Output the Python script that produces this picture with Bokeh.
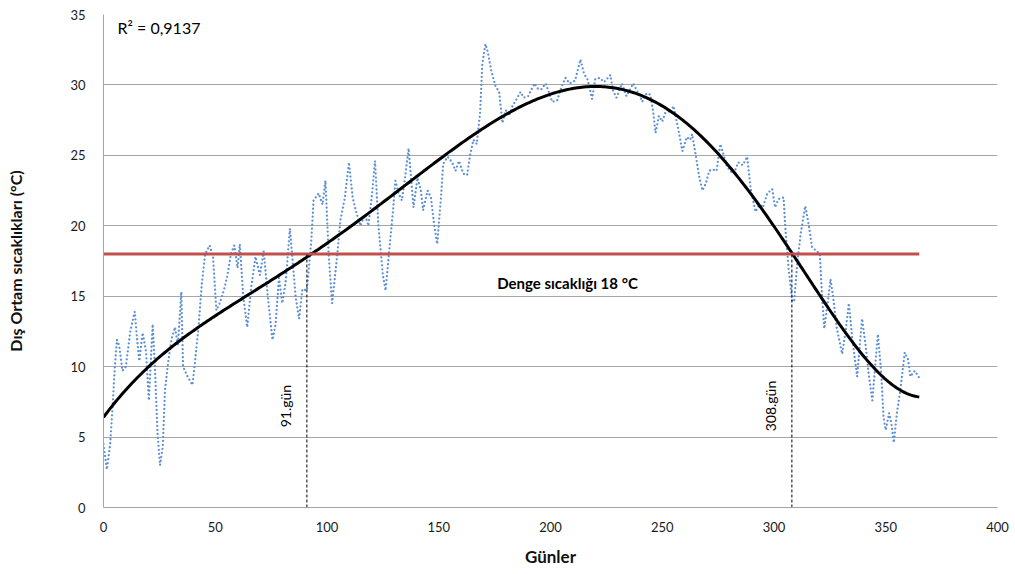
import numpy as np
from bokeh.plotting import figure
from bokeh.models import Range1d, FixedTicker
from bokeh.core.properties import value
from bokeh.embed import file_html
from bokeh.resources import INLINE

# Daily outdoor mean temperature (°C), read as (day, value) vertices
days = [0, 1.5, 3, 4, 5, 6, 7, 8.5, 10, 12, 14, 15, 16, 17.5, 19, 20.3, 22, 23, 24.2, 25.3,
        26.5, 27.5, 29, 30.5, 32, 33.3, 34.8, 35.6, 37.6, 39.8, 41, 42.5, 44, 45.5, 47.5, 49,
        50.5, 52, 54, 55.5, 57, 58.5, 60, 61, 62.5, 64.3, 66, 68, 70, 71.7, 73.5, 75.6, 77,
        78.5, 80, 81.5, 83.4, 85, 86, 87.5, 89, 91, 93, 94, 96.3, 98, 99.3, 100.8, 102.3,
        104.5, 106, 108, 109.8, 111.5, 113, 115, 117, 118.5, 120, 121.5, 123, 125, 126.2,
        128, 129.5, 130.6, 132, 133.5, 135, 136.5, 138.7, 140.5, 142, 143, 145, 146.5, 148,
        149.3, 151, 152, 154, 156, 157.5, 159, 161, 162.7, 164, 165.5, 167, 168.5, 169.5,
        170.9, 172, 173.5, 175.4, 177, 178.5, 180, 181.5, 183, 184.5, 186.6, 188, 190, 192.8,
        194.5, 196, 197.8, 199.5, 200.7, 203, 205, 206.7, 208.5, 211, 213.4, 215, 216.5,
        217.5, 218.6, 220, 222, 224, 226.8, 228, 229.5, 232, 234, 237, 240, 241, 243, 244.7,
        246, 247, 248.5, 250, 252, 253.5, 255, 257, 259, 261, 262.5, 263.4, 265, 266.5, 268,
        269.5, 271, 272.5, 274.3, 276, 277.5, 279, 281, 282, 284, 286, 288, 289.5, 291.7,
        293.5, 295, 297, 299.2, 300.5, 302, 304.3, 305, 306.5, 308.1, 309, 310.5, 312, 314,
        315.5, 317, 319, 320.5, 321.5, 322.5, 324, 325.3, 326.5, 328, 330.5, 332, 333.5, 335,
        337.2, 339.4, 341, 342.5, 344, 345.5, 346.5, 348, 349, 350, 351.5, 352.5, 353.6, 355,
        356.5, 358.5, 360, 361, 363, 365]
temps = [4.5, 2.7, 4.5, 7.0, 9.8, 11.9, 11.5, 9.7, 10.0, 12.5, 13.9, 12.0, 10.4, 12.4, 11.1,
         7.6, 13.0, 10.0, 5.2, 3.0, 4.3, 8.3, 10.4, 12.0, 12.8, 11.5, 15.3, 10.0, 9.3, 8.7,
         10.4, 12.8, 15.9, 18.0, 18.6, 17.8, 14.0, 14.5, 15.5, 16.5, 18.0, 18.6, 17.0, 18.7,
         15.0, 12.8, 15.5, 17.8, 16.5, 18.2, 15.0, 11.9, 13.0, 16.3, 14.5, 16.0, 19.8, 16.8,
         14.9, 13.4, 15.5, 15.4, 19.0, 21.8, 22.3, 21.5, 23.2, 17.8, 14.5, 17.8, 20.4, 22.0,
         24.5, 22.0, 21.0, 20.0, 20.8, 20.0, 22.0, 24.6, 20.0, 16.5, 15.4, 18.5, 21.0, 23.2,
         22.3, 21.8, 23.5, 25.5, 21.3, 23.4, 22.5, 21.1, 22.5, 22.0, 20.0, 18.7, 22.0, 24.4,
         24.9, 24.5, 23.9, 24.6, 23.7, 23.6, 25.0, 26.1, 25.8, 28.0, 31.5, 32.9, 32.3, 31.0,
         29.9, 29.5, 27.3, 28.2, 27.8, 28.5, 28.9, 29.5, 29.1, 29.2, 30.1, 29.7, 29.7, 30.1,
         29.4, 28.8, 28.9, 29.9, 30.5, 30.1, 30.3, 31.8, 30.8, 30.4, 29.8, 29.0, 30.4, 30.5,
         30.2, 30.7, 29.6, 29.1, 30.1, 29.2, 30.1, 29.2, 28.8, 29.4, 29.3, 28.0, 26.6, 27.8,
         27.4, 28.3, 28.0, 28.5, 27.0, 25.3, 26.3, 26.1, 26.5, 25.0, 23.5, 22.5, 23.0, 23.9,
         24.0, 23.9, 25.8, 25.0, 24.2, 23.8, 23.7, 24.5, 24.3, 24.9, 22.7, 21.0, 21.5, 21.3,
         22.3, 22.6, 21.3, 21.9, 22.0, 20.0, 17.0, 14.7, 14.6, 17.5, 19.5, 21.4, 20.1, 18.5,
         18.2, 18.0, 15.0, 12.7, 14.5, 16.2, 14.9, 12.8, 10.9, 12.5, 14.5, 12.0, 9.3, 13.4,
         11.5, 9.3, 7.6, 10.5, 12.3, 9.5, 6.4, 5.5, 6.7, 6.0, 4.6, 6.7, 8.3, 11.0, 10.5, 9.3,
         9.7, 9.2]

# Points on the 6th-order trend curve
trend_days = [0, 20, 41, 57, 91, 124, 133, 152, 182, 187, 216, 227, 249, 275, 289, 309,
              321, 333, 346, 358, 365]
trend_vals = [6.4, 10.0, 12.6, 14.3, 17.9, 21.4, 22.6, 25.0, 28.1, 28.5, 29.9, 29.8, 28.5,
              25.1, 22.5, 17.9, 14.9, 12.1, 9.7, 8.3, 7.8]

balance_temp = 18
balance_days = [91, 308]
r_squared = "R² = 0,9137"

x_ticks = [0, 50, 100, 150, 200, 250, 300, 350, 400]
y_ticks = [0, 5, 10, 15, 20, 25, 30, 35]

FONT = "Lato"

p = figure(width=1015, height=574, output_backend="svg", toolbar_location=None,
           x_range=Range1d(0, 400), y_range=Range1d(0, 35),
           min_border_left=103, min_border_right=18, min_border_top=14,
           min_border_bottom=67)
p.outline_line_color = None
p.background_fill_color = "white"
p.border_fill_color = "white"

# grid
p.xgrid.grid_line_color = None
p.ygrid.grid_line_color = "#a6a6a6"
p.ygrid.grid_line_width = 1
p.ygrid.ticker = FixedTicker(ticks=y_ticks)

for ax in (p.xaxis[0], p.yaxis[0]):
    ax.axis_line_color = "#a6a6a6"
    ax.major_tick_line_color = None
    ax.minor_tick_line_color = None
    ax.major_label_text_font = FONT
    ax.major_label_text_font_size = "13px"
    ax.major_label_text_color = "#1a1a1a"
    ax.axis_label_text_font = FONT
    ax.axis_label_text_font_style = "bold"
    ax.axis_label_text_color = "#111111"

p.xaxis.ticker = FixedTicker(ticks=x_ticks)
p.yaxis.ticker = FixedTicker(ticks=y_ticks)
p.xaxis.axis_label = "Günler"
p.xaxis.axis_label_text_font_size = "17px"
p.xaxis.major_label_standoff = 8
p.xaxis.axis_label_standoff = 11
p.yaxis.axis_label = "Dış Ortam sıcaklıkları (°C)"
p.yaxis.axis_label_text_font_size = "16px"
p.yaxis.major_label_standoff = 12
p.yaxis.axis_label_standoff = 42

# daily temperatures (dotted)
p.line(days, temps, line_color="#5b8fd6", line_width=2.3, line_dash="0 4",
       line_cap="round")

# trend curve
poly = np.polynomial.Polynomial.fit(trend_days, trend_vals, 6)
tx = np.linspace(0, 365, 400)
p.line(tx, poly(tx), line_color="black", line_width=3)

# balance temperature line
p.line([0, 365], [balance_temp, balance_temp], line_color="#c0504d", line_width=3)

# day markers
for d in balance_days:
    p.line([d, d], [0, balance_temp], line_color="black", line_width=1, line_dash="3 2")
p.text(x=balance_days, y=[7.2, 7.2], text=[f"{d}.gün" for d in balance_days],
       angle=np.pi / 2, text_align="center", text_baseline="middle", x_offset=-21,
       text_font=value(FONT), text_font_size="14px", text_color="black")

p.text(x=[207.6], y=[15.95], text=[f"Denge sıcaklığı {balance_temp} °C"],
       text_align="center", text_baseline="middle", text_font=value(FONT),
       text_font_size="15px", text_font_style="bold", text_color="black")

p.text(x=[6.3], y=[34.1], text=[r_squared], text_align="left", text_baseline="middle",
       text_font=value(FONT), text_font_size="16px", text_color="black")

open("out.html", "w").write(file_html(p, INLINE))
